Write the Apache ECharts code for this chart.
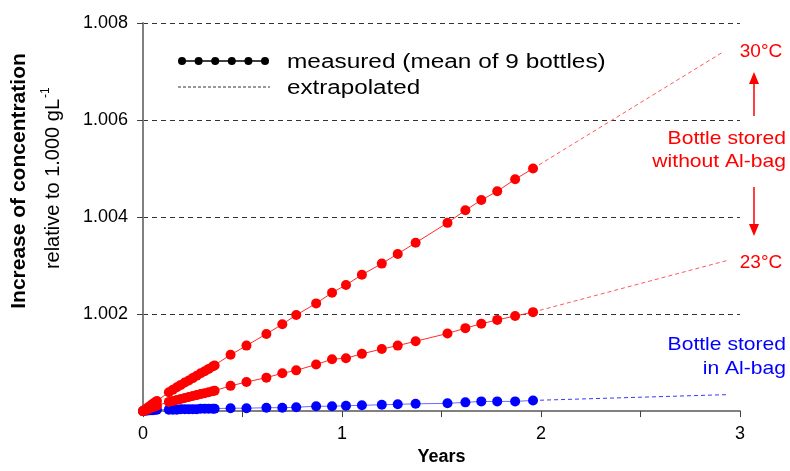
<!DOCTYPE html>
<html>
<head>
<meta charset="utf-8">
<script src="https://cdn.jsdelivr.net/npm/echarts@6/dist/echarts.min.js"></script>
<style>
html,body{margin:0;padding:0;background:#fff;}
#chart{width:790px;height:471px;}
</style>
</head>
<body>
<div id="chart"></div>
<script>
// Sampling times (years)
const years = [0, 0.01, 0.02, 0.03, 0.04, 0.05, 0.06, 0.07,
  0.13, 0.15, 0.17, 0.19, 0.21, 0.23, 0.25, 0.27, 0.29, 0.31, 0.33, 0.35, 0.36,
  0.44, 0.52, 0.62, 0.70, 0.77, 0.87, 0.95, 1.02, 1.10, 1.20, 1.28, 1.37,
  1.53, 1.62, 1.70, 1.78, 1.87, 1.96];

// Measured concentration, 30 °C, bottle without Al-bag
const measured30 = [1.00000, 1.00003, 1.00006, 1.00009, 1.00012, 1.00015, 1.00018, 1.00021,
  1.00039, 1.00044, 1.00049, 1.00054, 1.00059, 1.00063, 1.00068, 1.00073, 1.00078, 1.00082, 1.00087, 1.00092, 1.00094,
  1.00116, 1.00135, 1.00159, 1.00179, 1.00198, 1.00222, 1.00244, 1.00260, 1.00281, 1.00304, 1.00324, 1.00347,
  1.00388, 1.00414, 1.00435, 1.00453, 1.00478, 1.00500];

// Measured concentration, 23 °C, bottle without Al-bag
const measured23 = [1.00000, 1.00002, 1.00003, 1.00005, 1.00007, 1.00008, 1.00010, 1.00011,
  1.00019, 1.00021, 1.00023, 1.00025, 1.00027, 1.00029, 1.00031, 1.00033, 1.00035, 1.00037, 1.00039, 1.00041, 1.00042,
  1.00052, 1.00060, 1.00069, 1.00078, 1.00084, 1.00096, 1.00107, 1.00109, 1.00118, 1.00128, 1.00135, 1.00144,
  1.00160, 1.00171, 1.00180, 1.00188, 1.00196, 1.00204];

// Measured concentration, bottle stored in Al-bag
const measuredBag = [1.00000, 1.00001, 1.00001, 1.00002, 1.00002, 1.00002, 1.00003, 1.00003,
  1.00003, 1.00003, 1.00003, 1.00004, 1.00004, 1.00004, 1.00004, 1.00004, 1.00005, 1.00005, 1.00005, 1.00005, 1.00005,
  1.00006, 1.00006, 1.00007, 1.00007, 1.00008, 1.00010, 1.00010, 1.00011, 1.00012, 1.00013, 1.00014, 1.00015,
  1.00016, 1.00018, 1.00020, 1.00020, 1.00020, 1.00022];

// Extrapolations (start = last measured point)
const extrapYears30 = [1.96, 2.91];
const extrap30 = [1.00500, 1.00739];
const extrapYears = [1.96, 2.94];
const extrap23 = [1.00204, 1.00311];
const extrapBag = [1.00022, 1.00034];

// Axis ticks
const xTicks = {min: 0, max: 3, interval: 0.5};
const yTicks = {min: 1.000, max: 1.008, interval: 0.002};

const pairs = (xs, ys) => xs.map((x, i) => [x, ys[i]]);
const FONT = '"Liberation Sans", Arial, sans-serif';
const RED = '#ff0000', BLUE = '#0000ff';

const chart = echarts.init(document.getElementById('chart'));

function measuredSeries(data, color, lineColor) {
  return {
    type: 'line', data: data, symbol: 'circle', symbolSize: 10, showSymbol: true,
    itemStyle: {color: color},
    lineStyle: {color: lineColor, width: 1},
    silent: true, animation: false
  };
}
function extrapSeries(data, color) {
  return {
    type: 'line', data: data, symbol: 'none', showSymbol: false,
    lineStyle: {color: color, width: 1, type: [4, 3]},
    silent: true, animation: false
  };
}

function txt(x, y, text, color, size, align, extra) {
  return Object.assign({
    type: 'text', x: x, y: y, silent: true,
    style: {text: text, fill: color, font: size + 'px ' + FONT,
      textAlign: align, align: align, textVerticalAlign: 'middle', verticalAlign: 'middle'}
  }, extra || {});
}

const option = {
  animation: false,
  backgroundColor: '#fff',
  grid: {left: 143, right: 50, top: 23, bottom: 52, containLabel: false},
  xAxis: {
    type: 'value', min: xTicks.min, max: xTicks.max, interval: xTicks.interval,
    name: 'Years', nameLocation: 'middle', nameGap: 34,
    nameTextStyle: {fontFamily: FONT, fontWeight: 'bold', fontSize: 18, color: '#000'},
    axisLine: {show: true, onZero: false, lineStyle: {color: '#808080', width: 2}},
    axisTick: {show: true, length: 6, inside: false, lineStyle: {color: '#404040', width: 1}},
    axisLabel: {fontFamily: FONT, fontSize: 18, color: '#000', margin: 14,
      formatter: v => (Math.abs(v - Math.round(v)) < 1e-9 ? String(Math.round(v)) : '')},
    splitLine: {show: false}
  },
  yAxis: {
    type: 'value', min: yTicks.min, max: yTicks.max, interval: yTicks.interval,
    axisLine: {show: true, lineStyle: {color: '#808080', width: 2}},
    axisTick: {show: true, length: 6, lineStyle: {color: '#404040', width: 1}},
    axisLabel: {fontFamily: FONT, fontSize: 18, color: '#000', margin: 15, showMinLabel: false,
      formatter: v => v.toFixed(3)},
    splitLine: {show: true, lineStyle: {color: '#333', width: 1, type: [5, 4]}}
  },
  series: [
    extrapSeries(pairs(extrapYears, extrapBag), '#3a3aff'),
    extrapSeries(pairs(extrapYears, extrap23), '#ff5a5a'),
    extrapSeries(pairs(extrapYears30, extrap30), '#ff5a5a'),
    measuredSeries(pairs(years, measuredBag), BLUE, '#6b6bff'),
    measuredSeries(pairs(years, measured23), RED, '#ff2a2a'),
    measuredSeries(pairs(years, measured30), RED, '#ff2a2a')
  ],
  graphic: [
    // y-axis title
    {
      type: 'text', x: 19, y: 181, rotation: Math.PI / 2, silent: true,
      style: {text: 'Increase of concentration', fill: '#000', font: 'bold 21px ' + FONT,
        textAlign: 'center', align: 'center', textVerticalAlign: 'middle', verticalAlign: 'middle'}
    },
    {
      type: 'group', x: 53, y: 181, rotation: Math.PI / 2, silent: true,
      children: [
        {type: 'text', x: 82, y: 0, style: {text: 'relative to 1.000 gL', fill: '#000', font: '20px ' + FONT,
          textAlign: 'right', align: 'right', textVerticalAlign: 'middle', verticalAlign: 'middle'}},
        {type: 'text', x: 83, y: -7, style: {text: '-1', fill: '#000', font: '12px ' + FONT,
          textAlign: 'left', align: 'left', textVerticalAlign: 'middle', verticalAlign: 'middle'}}
      ]
    },
    // legend
    {type: 'line', silent: true, shape: {x1: 182, y1: 61, x2: 265, y2: 61}, style: {stroke: '#000', lineWidth: 1.5}},
    ...[182, 198.6, 215.2, 231.8, 248.4, 265].map(cx => ({
      type: 'circle', silent: true, shape: {cx: cx, cy: 61, r: 4}, style: {fill: '#000'}
    })),
    {type: 'line', silent: true, shape: {x1: 178, y1: 87, x2: 270, y2: 87}, style: {stroke: '#333', lineWidth: 1, lineDash: [3, 2]}},
    txt(287, 62, 'measured (mean of 9 bottles)', '#000', 20, 'left', {scaleX: 1.22}),
    txt(287, 88, 'extrapolated', '#000', 20, 'left', {scaleX: 1.21}),
    // annotations
    txt(761, 52, '30°C', RED, 19, 'center'),
    txt(786, 139, 'Bottle stored', RED, 19, 'right', {scaleX: 1.11}),
    txt(786, 162, 'without Al-bag', RED, 19, 'right', {scaleX: 1.11}),
    txt(761, 263, '23°C', RED, 19, 'center'),
    txt(786, 345, 'Bottle stored', BLUE, 19, 'right', {scaleX: 1.11}),
    txt(786, 369, 'in Al-bag', BLUE, 19, 'right', {scaleX: 1.11}),
    // arrows
    {type: 'line', silent: true, shape: {x1: 754, y1: 116, x2: 754, y2: 82}, style: {stroke: RED, lineWidth: 1.5}},
    {type: 'polygon', silent: true, shape: {points: [[749, 84], [759, 84], [754, 72]]}, style: {fill: RED}},
    {type: 'line', silent: true, shape: {x1: 754, y1: 187, x2: 754, y2: 226}, style: {stroke: RED, lineWidth: 1.5}},
    {type: 'polygon', silent: true, shape: {points: [[749, 224], [759, 224], [754, 236]]}, style: {fill: RED}}
  ]
};
chart.setOption(option);
</script>
</body>
</html>
